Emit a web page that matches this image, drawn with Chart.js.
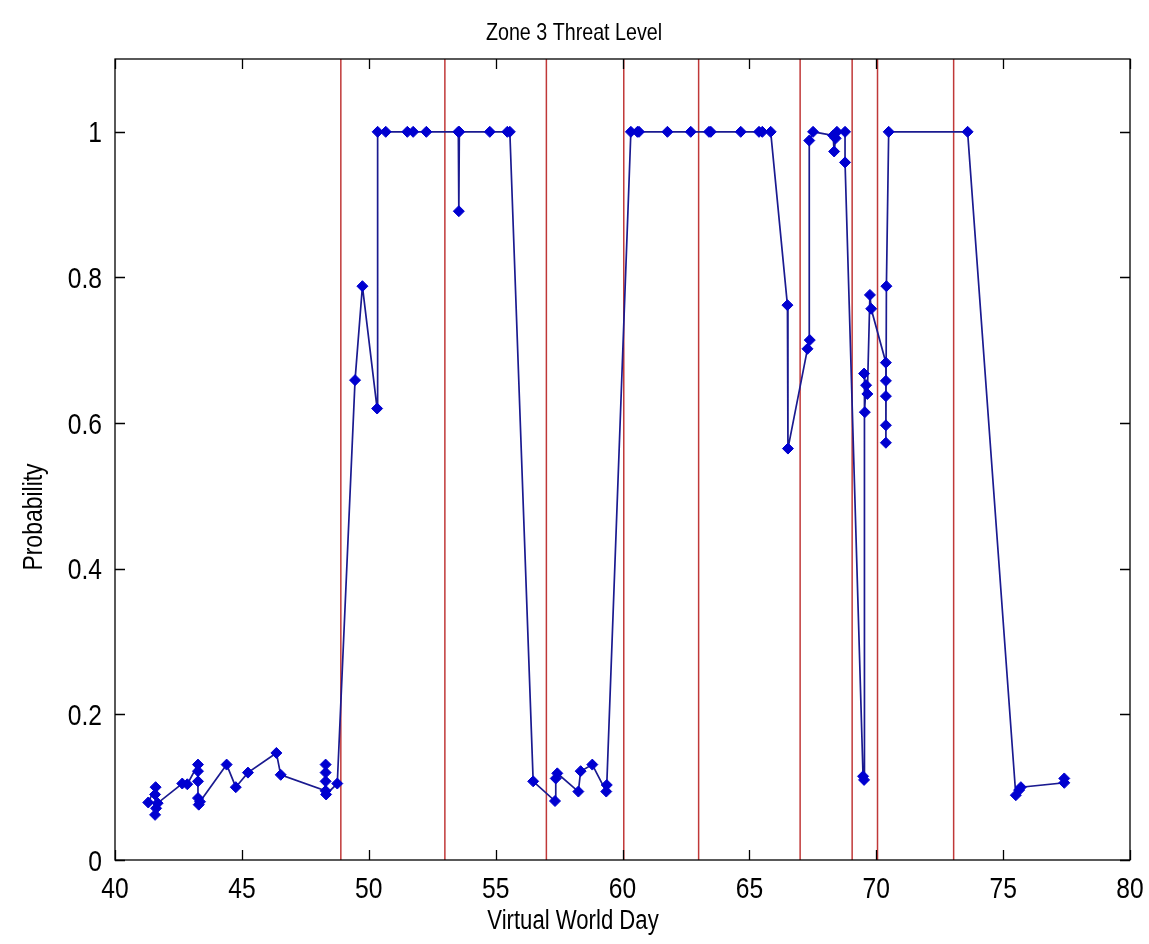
<!DOCTYPE html>
<html>
<head>
<meta charset="utf-8">
<script src="https://cdn.jsdelivr.net/npm/chart.js@4/dist/chart.umd.min.js"></script>
<style>
html,body{margin:0;padding:0;background:#fff;}
#wrap{width:1149px;height:944px;}
</style>
</head>
<body>
<div id="wrap"><canvas id="c" width="1149" height="944"></canvas></div>
<script>
// ---- data ----
const titleText = "Zone 3 Threat Level";
const xLabel = "Virtual World Day";
const yLabel = "Probability";
const xTicks = [40, 45, 50, 55, 60, 65, 70, 75, 80];
const xTickLabels = ["40", "45", "50", "55", "60", "65", "70", "75", "80"];
const yTicks = [0, 0.2, 0.4, 0.6, 0.8, 1];
const yTickLabels = ["0", "0.2", "0.4", "0.6", "0.8", "1"];
const eventDays = [48.9, 53.0, 57.0, 60.05, 63.0, 67.0, 69.05, 70.05, 73.05];

const days = [
  41.31, 41.60, 41.58, 41.62, 41.58, 41.68, 42.65, 42.85,
  43.27, 43.27, 43.27, 43.27, 43.30, 43.35, 44.40, 44.76, 45.24, 46.36, 46.53,
  48.30, 48.30, 48.30, 48.30, 48.32, 48.76,
  49.46, 49.75, 50.33, 50.35, 50.67, 51.52, 51.75, 52.27, 53.53, 53.55, 53.57, 54.77, 55.46, 55.56,
  56.48, 57.34, 57.37, 57.43, 58.26, 58.35, 58.81, 59.36, 59.38,
  60.33, 60.59, 60.65, 61.77, 62.69, 63.41, 63.48, 64.66, 65.38, 65.51, 65.84,
  66.50, 66.52, 67.29, 67.38, 67.36, 67.51, 68.30, 68.34, 68.40, 68.45, 68.77, 68.77,
  69.48, 69.52, 69.52, 69.55, 69.60, 69.65, 69.75, 69.80,
  70.38, 70.38, 70.38, 70.38, 70.38, 70.40, 70.49, 73.60,
  75.50, 75.63, 75.70, 77.41, 77.41
];
const probability = [
  0.079, 0.100, 0.090, 0.071, 0.062, 0.078, 0.105, 0.104,
  0.131, 0.122, 0.108, 0.085, 0.076, 0.080, 0.131, 0.100, 0.120, 0.147, 0.117,
  0.095, 0.131, 0.120, 0.108, 0.090, 0.105,
  0.659, 0.788, 0.620, 1.0, 1.0, 1.0, 1.0, 1.0, 1.0, 0.891, 1.0, 1.0, 1.0, 1.0,
  0.108, 0.081, 0.112, 0.119, 0.094, 0.122, 0.131, 0.094, 0.103,
  1.0, 1.0, 1.0, 1.0, 1.0, 1.0, 1.0, 1.0, 1.0, 1.0, 1.0,
  0.762, 0.565, 0.702, 0.714, 0.988, 1.0, 0.995, 0.973, 0.991, 1.0, 1.0, 0.958,
  0.115, 0.110, 0.668, 0.615, 0.652, 0.640, 0.776, 0.757,
  0.683, 0.658, 0.637, 0.597, 0.573, 0.788, 1.0, 1.0,
  0.089, 0.096, 0.100, 0.106, 0.112
];

const FONT = "'Liberation Sans', Arial, sans-serif";
const SX = 0.82; // horizontal condensing of text

const mainData = days.map((d, i) => ({x: d, y: probability[i]}));
const datasets = [{
  data: mainData,
  showLine: true,
  borderColor: '#1a1a90',
  borderWidth: 1.7,
  pointStyle: 'rectRot',
  pointRadius: 5.5,
  pointBackgroundColor: '#0000d0',
  pointBorderColor: '#0000d0',
  pointBorderWidth: 1,
  order: 0
}];
eventDays.forEach(d => {
  datasets.push({
    data: [{x: d, y: 0}, {x: d, y: 1.1}],
    showLine: true,
    borderColor: '#c03838',
    borderWidth: 1.5,
    pointRadius: 0,
    order: 5
  });
});

function condensedText(ctx, text, x, y, size, align, rot) {
  ctx.save();
  ctx.translate(x, y);
  if (rot) ctx.rotate(rot);
  ctx.scale(SX, 1);
  ctx.font = size + "px " + FONT;
  ctx.textAlign = align;
  ctx.textBaseline = 'alphabetic';
  ctx.fillText(text, 0, 0);
  ctx.restore();
}

const frame = {
  id: 'frame',
  afterDraw(chart) {
    const ctx = chart.ctx, a = chart.chartArea;
    const xs = chart.scales.x, ys = chart.scales.y;
    ctx.save();
    ctx.strokeStyle = '#000';
    ctx.lineWidth = 1.3;
    ctx.strokeRect(a.left, a.top, a.right - a.left, a.bottom - a.top);
    const L = 10;
    ctx.beginPath();
    xTicks.forEach(v => {
      const p = Math.round(xs.getPixelForValue(v)) + 0.5;
      ctx.moveTo(p, a.bottom); ctx.lineTo(p, a.bottom - L);
      ctx.moveTo(p, a.top); ctx.lineTo(p, a.top + L);
    });
    yTicks.forEach(v => {
      const p = Math.round(ys.getPixelForValue(v)) + 0.5;
      ctx.moveTo(a.left, p); ctx.lineTo(a.left + L, p);
      ctx.moveTo(a.right, p); ctx.lineTo(a.right - L, p);
    });
    ctx.stroke();
    ctx.fillStyle = '#000';
    xTicks.forEach((v, i) => {
      condensedText(ctx, xTickLabels[i], xs.getPixelForValue(v), a.bottom + 38, 30, 'center');
    });
    yTicks.forEach((v, i) => {
      condensedText(ctx, yTickLabels[i], a.left - 13, ys.getPixelForValue(v) + 10.5, 30, 'right');
    });
    condensedText(ctx, titleText, 574, 40, 24, 'center');
    condensedText(ctx, xLabel, 573, 929, 27, 'center');
    condensedText(ctx, yLabel, 42, 517, 28, 'center', -Math.PI / 2);
    ctx.restore();
  }
};

new Chart(document.getElementById('c'), {
  type: 'scatter',
  data: {datasets},
  options: {
    responsive: false,
    animation: false,
    layout: {padding: {left: 115, top: 59, right: 19, bottom: 84}},
    plugins: {legend: {display: false}, tooltip: {enabled: false}, title: {display: false}},
    scales: {
      x: {
        type: 'linear', min: 40, max: 80, display: false,
        afterBuildTicks(s) { s.ticks = xTicks.map(v => ({value: v})); },
        grid: {display: false}
      },
      y: {
        type: 'linear', min: 0, max: 1.1, display: false,
        afterBuildTicks(s) { s.ticks = yTicks.map(v => ({value: v})); },
        grid: {display: false}
      }
    }
  },
  plugins: [frame]
});
</script>
</body>
</html>
